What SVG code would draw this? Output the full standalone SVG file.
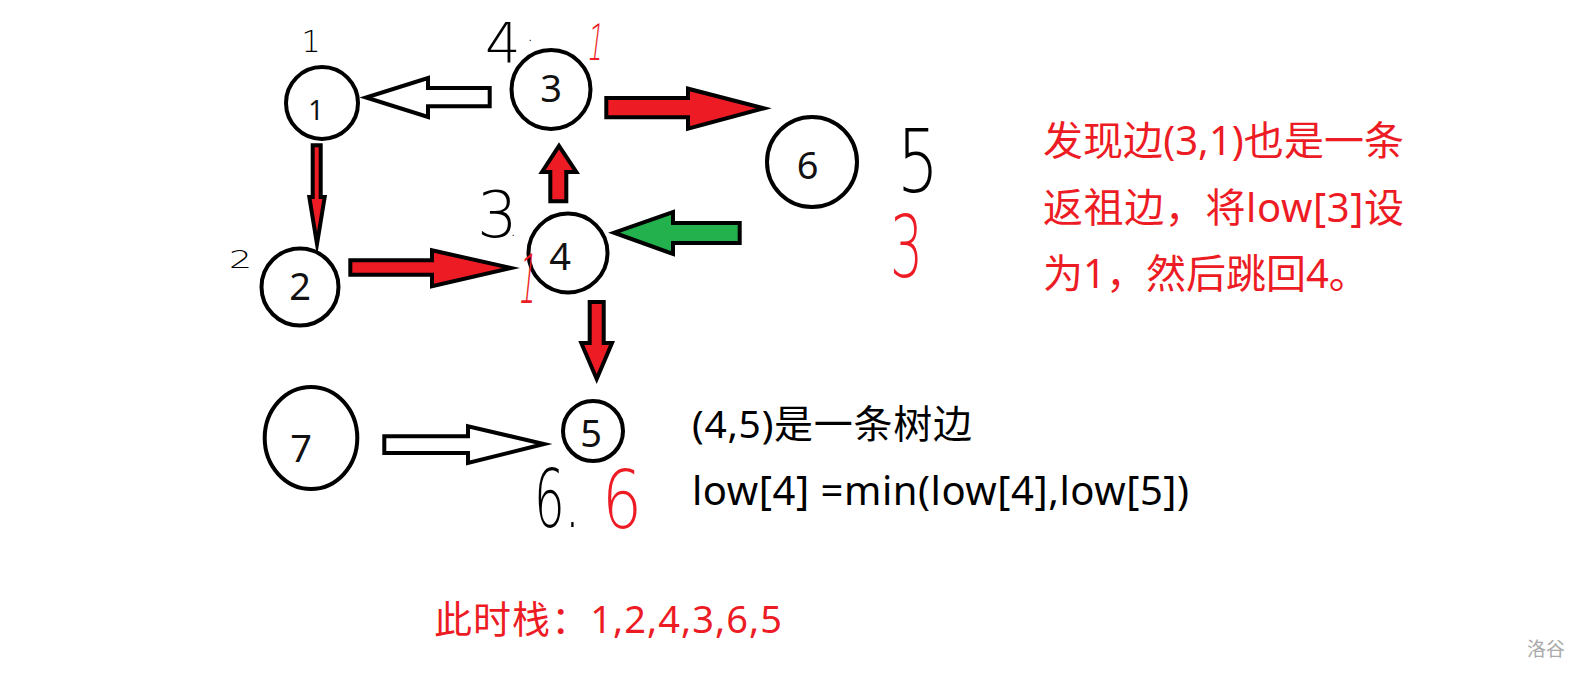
<svg xmlns="http://www.w3.org/2000/svg" width="1594" height="684" viewBox="0 0 1594 684">
<style>
.node{fill:#fff;stroke:#000;stroke-width:4}
.lbl{font-family:"Noto Sans","Open Sans",sans-serif;font-size:38px;fill:#111;text-anchor:middle}
.arr{stroke:#000;stroke-width:4;stroke-linejoin:miter;stroke-miterlimit:10}
.red{fill:#ED1C24}
.grn{fill:#22B14C}
.hol{fill:#fff}
.hw{font-family:"DejaVu Sans Light","Lato","Liberation Sans",sans-serif;font-weight:200}
.hwk{fill:#000}
.hwr{fill:#ED1C24}
.txt{font-family:"Noto Sans","Noto Sans CJK SC",sans-serif}
</style>
<rect width="1594" height="684" fill="#fff"/>
<g id="connectors">
<polygon class="arr hol" points="489.7,88 428,88 428,78 366,97.5 428,117 428,106.3 489.7,106.3"/>
<polygon class="arr red" points="312.7,145.3 320.7,145.3 320.7,197 324.7,197 317,244 309.3,197 312.7,197"/>
<polygon class="arr red" points="350.3,260.3 432,260.3 432,250.3 511,268 432,286.3 432,274.7 350.3,274.7"/>
<polygon class="arr red" points="550.3,201.3 550.3,172 542,172 559,146 576.3,172 566.3,172 566.3,201.3"/>
<polygon class="arr red" points="606.3,98 688,98 688,88.7 764,108.3 688,128.7 688,117.3 606.3,117.3"/>
<polygon class="arr grn" points="739.7,223 673,223 673,212 614,232.7 673,254 673,243 739.7,243"/>
<polygon class="arr red" points="589.7,302 603.7,302 603.7,343 612,343 596.7,379 581.3,343 589.7,343"/>
<polygon class="arr hol" points="384.3,436.3 468,436.3 468,426.3 544,444 468,463 468,453 384.3,453"/>
</g>
<g id="node1"><circle class="node" cx="322" cy="103" r="36"/><text class="lbl" x="316" y="120" style="font-size:27px">1</text></g>
<g id="node2"><circle class="node" cx="300" cy="287" r="38.5"/><text class="lbl" x="300" y="300">2</text></g>
<g id="node3"><circle class="node" cx="551" cy="89.5" r="39.5"/><text class="lbl" x="551" y="101.5">3</text></g>
<g id="node4"><circle class="node" cx="568" cy="253" r="39.5"/><text class="lbl" x="560" y="270">4</text></g>
<g id="node5"><circle class="node" cx="593" cy="431" r="30"/><text class="lbl" x="591" y="446.5">5</text></g>
<g id="node6"><circle class="node" cx="812" cy="162" r="45"/><text class="lbl" x="807.5" y="179">6</text></g>
<g id="node7"><ellipse class="node" cx="311" cy="438" rx="46.3" ry="51"/><text class="lbl" x="301" y="461.5">7</text></g>
<g id="annotations">
<text class="hw hwk" x="311" y="52" font-size="30" text-anchor="middle">1</text>
<text class="hw hwk" x="485" y="62" font-size="56">4<tspan x="527" y="41" font-size="20">.</tspan></text>
<text class="hw hwr" x="586" y="60" font-size="50" font-style="italic" textLength="16" lengthAdjust="spacingAndGlyphs">1</text>
<text class="hw hwk" x="477" y="237" font-size="64">3<tspan x="510" y="236" font-size="20">.</tspan></text>
<text class="hw hwr" x="517" y="303" font-size="68" font-style="italic" textLength="18" lengthAdjust="spacingAndGlyphs">1</text>
<text class="hw hwk" x="229" y="268" font-size="25" textLength="23" lengthAdjust="spacingAndGlyphs">2</text>
<text class="hw hwk" x="897" y="192" font-size="88" textLength="42" lengthAdjust="spacingAndGlyphs">5</text>
<text class="hw hwr" x="890" y="277" font-size="86" textLength="33" lengthAdjust="spacingAndGlyphs">3</text>
<text class="hw hwk" x="534" y="527" font-size="80" textLength="46" lengthAdjust="spacingAndGlyphs">6.</text>
<text class="hw hwr" x="602" y="528" font-size="80" textLength="40" lengthAdjust="spacingAndGlyphs">6</text>
</g>
<g id="notes" class="txt">
<text x="692" y="438" font-size="39" fill="#000" textLength="280" lengthAdjust="spacing">(4,5)是一条树边</text>
<text x="692" y="505" font-size="40" fill="#000" textLength="497" lengthAdjust="spacing">low[4] =min(low[4],low[5])</text>
<text x="1043" y="155" font-size="40" fill="#ED1C24" textLength="361" lengthAdjust="spacing">发现边(3,1)也是一条</text>
<text x="1043" y="222" font-size="40" fill="#ED1C24" textLength="361" lengthAdjust="spacing">返祖边，将low[3]设</text>
<text x="1043" y="288" font-size="40" fill="#ED1C24">为1，然后跳回4。</text>
<text x="434" y="633" font-size="38" fill="#ED1C24" textLength="348" lengthAdjust="spacing">此时栈：1,2,4,3,6,5</text>
<text x="1527" y="656" font-size="19" fill="#aaa">洛谷</text>
</g>
</svg>
